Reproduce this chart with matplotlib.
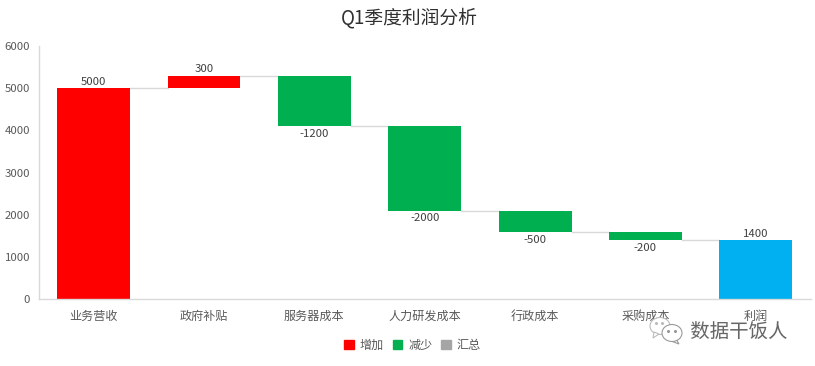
import matplotlib
matplotlib.use('Agg')
from matplotlib import pyplot as plt
from matplotlib.patches import Ellipse, Patch, Polygon
import matplotlib.patheffects as pe

plt.rcParams['font.family'] = ['Noto Sans CJK SC', 'DejaVu Sans']

categories = ['业务营收', '政府补贴', '服务器成本', '人力研发成本', '行政成本', '采购成本', '利润']
bottoms = [0, 5000, 4100, 2100, 1600, 1400, 0]
heights = [5000, 300, 1200, 2000, 500, 200, 1400]
labels = ['5000', '300', '-1200', '-2000', '-500', '-200', '1400']
kinds = ['up', 'up', 'down', 'down', 'down', 'down', 'total']
yticks = [0, 1000, 2000, 3000, 4000, 5000, 6000]
legend_names = ['增加', '减少', '汇总']

colors = {'up': '#FF0000', 'down': '#00B050', 'total': '#00B0F0'}
W, H = 815, 366
grey = '#595959'

fig = plt.figure(figsize=(W / 100, H / 100), dpi=100)
ax = fig.add_axes([38.5 / W, 1 - 299.1 / H, (811 - 38.5) / W, (299.1 - 46) / H])

x = list(range(len(categories)))
bar_w = 0.66
ax.bar(x, heights, bottom=bottoms, width=bar_w, color=[colors[k] for k in kinds], linewidth=0, zorder=2)

# connector lines between bars
for i in range(len(x) - 1):
    if kinds[i] == 'down':
        level = bottoms[i]
    else:
        level = bottoms[i] + heights[i]
    ax.plot([i + bar_w / 2, i + 1 - bar_w / 2], [level, level], color='#D9D9D9', lw=1, zorder=1)

# value labels, above for up/total and below for down
for i in x:
    if kinds[i] == 'down':
        ax.text(i, bottoms[i] - 70, labels[i], ha='center', va='top', fontsize=8.2, color='#404040')
    else:
        ax.text(i, bottoms[i] + heights[i] + 30, labels[i], ha='center', va='bottom', fontsize=8.2, color='#404040')

ax.set_xlim(-0.5, 6.5)
ax.set_ylim(0, 6000)
ax.set_xticks(x)
ax.set_xticklabels(categories, fontsize=8.7, color=grey)
ax.set_yticks(yticks)
ax.set_yticklabels([str(v) for v in yticks], fontsize=8.2, color=grey)
ax.tick_params(length=0, pad=6)
ax.tick_params(axis='x', pad=8)
for s in ['top', 'right']:
    ax.spines[s].set_visible(False)
for s in ['left', 'bottom']:
    ax.spines[s].set_color('#D9D9D9')
    ax.spines[s].set_linewidth(1)

fig.text(409 / W, 1 - 18 / H, 'Q1季度利润分析', ha='center', va='center', fontsize=13.5, color='#303030')

handles = [Patch(color=colors['up']), Patch(color=colors['down']), Patch(color='#A5A5A5')]
fig.legend(handles, legend_names, loc='center', bbox_to_anchor=(412.5 / W, 1 - 345 / H), ncol=3, frameon=False,
           fontsize=8.7, labelcolor=grey, handlelength=0.8, handleheight=0.8, handletextpad=0.5, columnspacing=0.7)

# watermark
halo = [pe.withStroke(linewidth=0.8, foreground='white')]
fig.text(739 / W, 1 - 332 / H, '数据干饭人', ha='center', va='center', fontsize=14, color='#666666', path_effects=halo)
overlay = fig.add_axes([0, 0, 1, 1], facecolor='none')
overlay.set_xlim(0, W)
overlay.set_ylim(H, 0)
overlay.axis('off')
overlay.add_patch(Ellipse((660, 326), 20, 17, fc='white', ec='#BBBBBB', lw=0.8))
overlay.add_patch(Polygon([(654, 332), (653, 338), (659, 334)], fc='white', ec='#BBBBBB', lw=0.8))
overlay.add_patch(Polygon([(676, 339), (679, 344), (671, 341)], fc='white', ec='#999999', lw=0.8))
overlay.add_patch(Ellipse((672, 333), 20, 17, fc='white', ec='#999999', lw=0.8))
overlay.plot([668, 675], [331, 331], ls='none', marker='o', ms=1.2, color='#999999')
overlay.plot([656, 662], [323, 323], ls='none', marker='o', ms=1.2, color='#BBBBBB')

fig.savefig('out.png', dpi=100)
